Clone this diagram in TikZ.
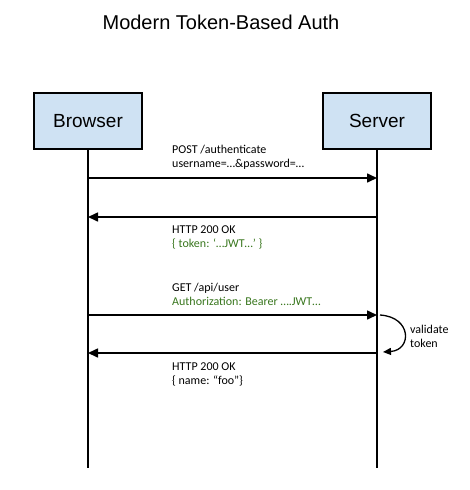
\documentclass[tikz,border=0pt]{standalone}
\usepackage{fontspec}
\setmainfont{Liberation Sans}
\newfontfamily\notefont{Carlito}
\usetikzlibrary{arrows.meta}
\definecolor{boxblue}{HTML}{CFE2F3}
\definecolor{notegreen}{HTML}{38761D}
\tikzset{
  actor/.style={draw=black, line width=1.6pt, fill=boxblue, minimum width=108pt, minimum height=56pt, font=\fontsize{19}{22}\selectfont},
  lifeline/.style={line width=1.6pt},
  msg/.style={line width=1.6pt, -{Triangle[length=10pt,width=9pt]}},
  note/.style={anchor=west, inner sep=0pt, align=left, font=\notefont\fontsize{12}{14}\selectfont},
}
\begin{document}
\begin{tikzpicture}[x=1pt, y=-1pt]
\useasboundingbox (0,0) rectangle (470,490);

\node[font=\fontsize{20}{24}\selectfont] (title) at (221,22) {Modern Token-Based Auth};

\node[actor] (browser) at (88,121) {Browser};
\node[actor] (server) at (377,121) {Server};

\coordinate (browserend) at (88,468);
\coordinate (serverend) at (377,468);
\draw[lifeline] (browser.south) -- (browserend);
\draw[lifeline] (server.south) -- (serverend);

% points on the lifelines
\coordinate (b1) at (88,178);  \coordinate (s1) at (377,178);
\coordinate (b2) at (88,217);  \coordinate (s2) at (377,217);
\coordinate (b3) at (88,315);  \coordinate (s3) at (377,315);
\coordinate (b4) at (88,353);  \coordinate (s4) at (377,353);
\coordinate (loopstart) at (380,315);
\coordinate (loopend) at (383,352);

\draw[msg] (b1) -- (s1);
\draw[msg] (s2) -- (b2);
\draw[msg] (b3) -- (s3);
\draw[msg] (s4) -- (b4);
\draw[line width=1.3pt, -{Triangle[length=8pt,width=7pt]}] (loopstart) .. controls (412,317) and (412,350) .. (loopend);

\node[note] (post) at (172,157) {POST /authenticate\\username=…\&password=…};
\node[note] (ok1) at (172,237) {HTTP 200 OK\\\textcolor{notegreen}{\{ token: ‘…JWT…’ \}}};
\node[note] (get) at (172,294) {GET /api/user\\\textcolor{notegreen}{Authorization: Bearer ….JWT…}};
\node[note] (ok2) at (172,374) {HTTP 200 OK\\\{ name: “foo”\}};
\node[note] (validate) at (410,336) {validate\\token};
\end{tikzpicture}
\end{document}
